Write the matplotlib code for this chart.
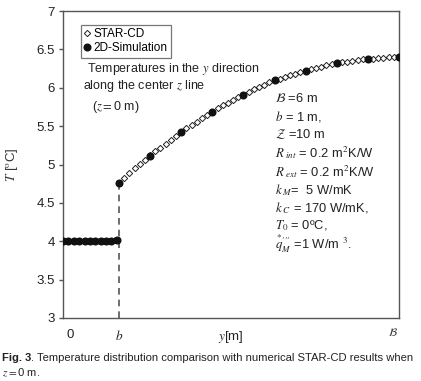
import numpy as np
import matplotlib
matplotlib.use("Agg")
import matplotlib.pyplot as plt

plt.rcParams['font.family'] = ['Liberation Sans', 'DejaVu Sans']
plt.rcParams['mathtext.fontset'] = 'stix'

# STAR-CD (diamonds)
star_y = [0.0, 0.046, 0.092, 0.138, 0.184, 0.230, 0.276, 0.322, 0.368, 0.414, 0.460] + \
         [round(0.5 + i * 2.5 / 54, 4) for i in range(55)]
star_T = [4.0, 4.0, 4.0, 4.0, 4.0, 4.0, 4.0, 4.0, 4.0, 4.0, 4.01,
          4.76, 4.83, 4.89, 4.95, 5.01, 5.06, 5.12,
          5.17, 5.22, 5.27, 5.32, 5.37, 5.42,
          5.47, 5.52, 5.56, 5.60, 5.65, 5.69,
          5.73, 5.77, 5.80, 5.84, 5.88, 5.91,
          5.94, 5.98, 6.01, 6.04, 6.07, 6.10,
          6.12, 6.14, 6.16, 6.18, 6.20, 6.22,
          6.24, 6.26, 6.27, 6.29, 6.31, 6.32,
          6.33, 6.34, 6.35, 6.36, 6.37, 6.38,
          6.38, 6.39, 6.39, 6.40, 6.40, 6.40]

# 2D simulation (filled circles)
sim_y = [0.0, 0.048, 0.096, 0.144, 0.192, 0.240, 0.288, 0.336, 0.384, 0.432, 0.48,
         0.5, 0.778, 1.056, 1.333, 1.611, 1.889, 2.167, 2.444, 2.722, 3.0]
sim_T = [4.0, 4.0, 4.0, 4.0, 4.0, 4.0, 4.0, 4.0, 4.0, 4.0, 4.02,
         4.755, 5.115, 5.42, 5.69, 5.91, 6.10, 6.22, 6.32, 6.38, 6.40]

b_pos = 0.5
y_ticks = [3, 3.5, 4, 4.5, 5, 5.5, 6, 6.5, 7]
y_ticklabels = ['3', '3.5', '4', '4.5', '5', '5.5', '6', '6.5', '7']

fig = plt.figure(figsize=(4.21, 3.81), dpi=100)
ax = fig.add_axes([63/421, 1 - 318/381, (399-63)/421, (318-11)/381])

spine_c = '#555555'
for s in ax.spines.values():
    s.set_color(spine_c)
    s.set_linewidth(1.0)

ax.plot([b_pos, b_pos], [3, sim_T[11]], color='#555555', lw=1.2, ls=(0, (4, 3)), zorder=1)

ax.plot(star_y, star_T, 'D', mfc='white', mec='#222222', mew=0.7, ms=3.2, ls='none', zorder=2,
        label='STAR-CD')
ax.plot(sim_y, sim_T, 'o', color='#111111', ms=4.8, ls='none', zorder=3, label='2D-Simulation')

ax.set_xlim(0, 3)
ax.set_ylim(3, 7)
ax.set_yticks(y_ticks)
ax.set_yticklabels(y_ticklabels)
ax.set_xticks([])
ax.tick_params(axis='y', direction='out', length=3, width=1, color=spine_c, labelsize=9.5,
               labelcolor='#222222', pad=3)

ax.set_ylabel('$T$ [$^{\\mathrm{o}}$C]', fontsize=9.5, labelpad=12, color='#333333')

# x labels
ax.text(0.065, -0.035, '0', transform=ax.get_xaxis_transform(), ha='center', va='top', fontsize=9.5, color='#222222')
ax.text(b_pos, -0.035, '$b$', transform=ax.get_xaxis_transform(), ha='center', va='top', fontsize=9.5, color='#222222')
ax.text(2.95, -0.025, '$\\mathcal{B}$', transform=ax.get_xaxis_transform(), ha='center', va='top', fontsize=8, color='#333333')
ax.text(1.5, -0.035, '$y$[m]', transform=ax.get_xaxis_transform(), ha='center', va='top', fontsize=9.5, color='#222222')

# legend
leg = ax.legend(loc='upper left', bbox_to_anchor=(0.053, 0.955),
                fontsize=8.5, frameon=True, fancybox=False, edgecolor='#555555',
                handlelength=0.5, handletextpad=0.3, borderpad=0.3, labelspacing=0.15,
                borderaxespad=0)
leg.get_frame().set_linewidth(0.9)

fs = 9
fig.text(87/421, 1 - 69/381, 'Temperatures in the $y$ direction', fontsize=fs, va='center', color='#222222')
fig.text(83/421, 1 - 86/381, 'along the center $z$ line', fontsize=fs, va='center', color='#222222')
fig.text(92/421, 1 - 107/381, '($z$$=$0 m)', fontsize=fs, va='center', color='#222222')

params = [
    (98, '$\\mathcal{B}$ =6 m'),
    (117, '$b$ = 1 m,'),
    (134, '$\\mathcal{Z}$ =10 m'),
    (153, '$R_{\\ int}$ = 0.2 m$^2$K/W'),
    (172, '$R_{\\ ext}$ = 0.2 m$^2$K/W'),
    (190, '$k_{\\ M}$=  5 W/mK'),
    (208, '$k_{\\ C}$ = 170 W/mK,'),
    (226, '$T_0$ = 0ºC,'),
    (244, "$\\overset{*}{q}_{M}^{\\prime\\prime\\prime}$ =1 W/m $^3$."),
]
for yy, t in params:
    fig.text(275/421, 1 - yy/381, t, fontsize=9.3, va='center', color='#222222')

cap_fs = 8.1
t1 = fig.text(2/421, 1 - 358/381, 'Fig. 3', fontsize=cap_fs, fontweight='bold', va='center', color='#222222')
fig.canvas.draw()
bb = t1.get_window_extent(renderer=fig.canvas.get_renderer())
fig.text(bb.x1/421, 1 - 358/381, '. Temperature distribution comparison with numerical STAR-CD results when',
         fontsize=cap_fs, va='center', color='#222222')
fig.text(2/421, 1 - 373/381, '$z$$=$0 m.', fontsize=cap_fs, va='center', color='#222222')

fig.savefig('out.png', dpi=100)
